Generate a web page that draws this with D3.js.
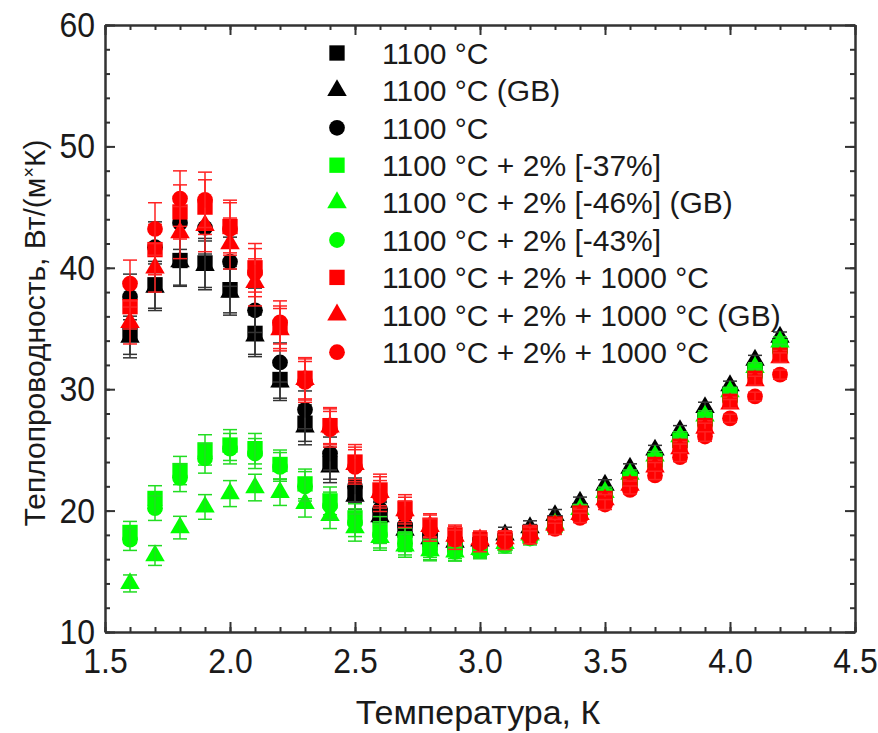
<script src="https://d3js.org/d3.v7.min.js"></script>

<style>
body{
  margin:0;
  background:#ffffff;
}
svg text{
  font-family:"Liberation Sans", Arial, sans-serif;
  fill:#1a1a1a;
}
.axis path, .axis line{
  stroke:#333333;
  stroke-width:2;
}
</style>

<div id="chart"></div>

<script>
// temperatures, K
const temps = [1.6,1.7,1.8,1.9,2.0,2.1,2.2,2.3,2.4,2.5,2.6,2.7,2.8,2.9,3.0,3.1,3.2,3.3,3.4,3.5,3.6,3.7,3.8,3.9,4.0,4.1,4.2];

// relative size of the error bars at each temperature
const errFrac = [0.05,0.05,0.05,0.05,0.05,0.05,0.05,0.055,0.055,0.06,0.06,0.055,0.05,0.045,0.04,0.035,0.03,0.025,0.02,0.02,0.015,0.015,0.015,0.015,0.012,0.012,0.012];

// thermal conductivity, W/(m*K)
const blackSquare = [34.6,38.6,40.6,40.4,38.2,34.6,30.8,27.2,23.9,21.4,19.6,18.4,17.6,17.2,17.2,17.5,18.2,19.0,20.0,21.3,22.7,24.2,25.8,27.6,29.6,31.6,33.6];
const blackTriangle = [34.3,38.4,40.5,40.2,38.0,34.4,30.6,26.9,23.6,21.2,19.5,18.4,17.7,17.4,17.5,18.0,18.6,19.6,20.7,22.1,23.5,25.0,26.6,28.5,30.3,32.4,34.3];
const blackCircle = [37.6,41.7,43.7,43.3,40.5,36.5,32.2,28.3,24.7,22.0,20.1,18.8,18.0,17.6,17.5,17.7,18.3,19.1,20.1,21.4,22.8,24.3,25.9,27.7,29.7,31.7,33.7];
const greenSquare = [18.2,21.0,23.3,25.0,25.4,25.1,23.8,22.2,20.8,19.4,18.4,17.6,17.0,16.8,16.9,17.3,17.9,18.8,19.9,21.2,22.6,24.1,25.8,27.5,29.5,31.5,33.5];
const greenTriangle = [14.0,16.3,18.6,20.3,21.4,21.9,21.5,20.6,19.6,18.6,17.8,17.1,16.7,16.6,16.8,17.3,18.0,18.9,20.1,21.5,23.0,24.5,26.1,27.8,29.8,31.8,33.9];
const greenCircle = [17.6,20.2,22.7,24.3,25.1,24.7,23.6,22.0,20.4,19.0,18.0,17.3,16.8,16.6,16.7,17.1,17.7,18.6,19.7,21.0,22.4,23.9,25.6,27.3,29.3,31.3,33.3];
const redSquare = [36.8,41.5,44.6,45.0,43.4,40.0,35.1,30.9,27.0,24.0,21.7,20.2,18.8,18.0,17.6,17.7,18.2,18.9,19.8,21.0,22.2,23.8,25.3,27.0,29.0,30.9,32.8];
const redTriangle = [35.5,40.0,42.9,43.5,42.0,38.8,34.9,30.8,26.9,23.8,21.5,20.0,18.7,17.9,17.6,17.7,18.1,18.8,19.7,20.9,22.1,23.6,25.1,26.8,28.8,30.7,32.6];
const redCircle = [38.7,43.2,45.7,45.6,43.2,39.6,35.5,30.6,26.7,23.6,21.2,19.7,18.4,17.6,17.3,17.4,17.8,18.5,19.4,20.5,21.7,22.9,24.4,26.1,27.6,29.4,31.2];

const seriesNames = [
  "1100 °C",
  "1100 °C (GB)",
  "1100 °C",
  "1100 °C + 2% [-37%]",
  "1100 °C + 2% [-46%] (GB)",
  "1100 °C + 2% [-43%]",
  "1100 °C + 2% + 1000 °C",
  "1100 °C + 2% + 1000 °C (GB)",
  "1100 °C + 2% + 1000 °C"
];
const seriesValues = [blackSquare, blackTriangle, blackCircle, greenSquare, greenTriangle, greenCircle, redSquare, redTriangle, redCircle];

const xTicks = [1.5,2.0,2.5,3.0,3.5,4.0,4.5];
const yTicks = [10,20,30,40,50,60];

const colors = ["#000000","#000000","#000000","#00ff00","#00ff00","#00ff00","#ff0000","#ff0000","#ff0000"];
const barColors = ["#333333","#333333","#333333","#22dd22","#22dd22","#22dd22","#ff2222","#ff2222","#ff2222"];
const shapes = [d3.symbolSquare, d3.symbolTriangle, d3.symbolCircle];
const shapeSizes = [235, 165, 195];

let width = 878,
    height = 733;
let margin = {top: 25, right: 23, bottom: 101, left: 105};

let svg = d3.select("#chart")
  .append("svg")
    .attr("width", width)
    .attr("height", height);

let x = d3.scaleLinear()
  .domain([1.5, 4.5])
  .range([margin.left, width - margin.right]);

let y = d3.scaleLinear()
  .domain([10, 60])
  .range([height - margin.bottom, margin.top]);

// minor ticks first, then major ticks with labels
let xMinor = d3.range(15, 46).map(d => d / 10);
let yMinor = d3.range(10, 61, 2);

svg.append("g")
  .attr("class", "axis")
  .attr("transform", "translate(0," + y(10) + ")")
  .call(d3.axisBottom(x).tickValues(xMinor).tickSizeInner(-5).tickSizeOuter(0).tickFormat(""));
svg.append("g")
  .attr("class", "axis")
  .attr("transform", "translate(0," + y(60) + ")")
  .call(d3.axisTop(x).tickValues(xMinor).tickSizeInner(-5).tickSizeOuter(0).tickFormat(""));
svg.append("g")
  .attr("class", "axis")
  .attr("transform", "translate(" + x(1.5) + ",0)")
  .call(d3.axisLeft(y).tickValues(yMinor).tickSizeInner(-5).tickSizeOuter(0).tickFormat(""));
svg.append("g")
  .attr("class", "axis")
  .attr("transform", "translate(" + x(4.5) + ",0)")
  .call(d3.axisRight(y).tickValues(yMinor).tickSizeInner(-5).tickSizeOuter(0).tickFormat(""));

let xAxis = svg.append("g")
  .attr("class", "axis")
  .attr("transform", "translate(0," + y(10) + ")")
  .call(d3.axisBottom(x).tickValues(xTicks).tickSizeInner(-10).tickSizeOuter(0).tickPadding(14).tickFormat(d3.format(".1f")));
svg.append("g")
  .attr("class", "axis")
  .attr("transform", "translate(0," + y(60) + ")")
  .call(d3.axisTop(x).tickValues(xTicks).tickSizeInner(-10).tickSizeOuter(0).tickFormat(""));
let yAxis = svg.append("g")
  .attr("class", "axis")
  .attr("transform", "translate(" + x(1.5) + ",0)")
  .call(d3.axisLeft(y).tickValues(yTicks).tickSizeInner(-10).tickSizeOuter(0).tickPadding(10));
svg.append("g")
  .attr("class", "axis")
  .attr("transform", "translate(" + x(4.5) + ",0)")
  .call(d3.axisRight(y).tickValues(yTicks).tickSizeInner(-10).tickSizeOuter(0).tickFormat(""));

// tick labels in the reference are a little taller than wide
svg.selectAll(".axis text")
  .attr("font-size", "32px")
  .attr("fill", "#1a1a1a")
  .attr("transform", "scale(1,1.12)");

// axis titles
svg.append("text")
  .attr("x", 478)
  .attr("y", 724)
  .attr("text-anchor", "middle")
  .attr("font-size", "34px")
  .text("Температура, К");

let yTitle = svg.append("text")
  .attr("transform", "translate(45," + 333 + ") rotate(-90)")
  .attr("text-anchor", "middle")
  .attr("font-size", "30px");
yTitle.append("tspan").text("Теплопроводность, Вт/(м");
yTitle.append("tspan").attr("font-size", "18px").attr("dy", "-10").text("×");
yTitle.append("tspan").attr("dy", "10").text("К)");

// data points with error bars
let plot = svg.append("g");
seriesValues.forEach(function(vals, s){
  let pts = temps.map((t, i) => ({t: t, v: vals[i], e: vals[i] * errFrac[i]}));
  let g = plot.append("g");

  g.selectAll("path.mark")
    .data(pts)
    .enter().append("path")
      .attr("class", "mark")
      .attr("transform", d => "translate(" + x(d.t) + "," + y(d.v) + ")")
      .attr("d", d3.symbol().type(shapes[s % 3]).size(shapeSizes[s % 3]))
      .attr("fill", colors[s]);

  let bars = g.selectAll("g.err")
    .data(pts)
    .enter().append("g")
      .attr("class", "err")
      .attr("stroke", barColors[s])
      .attr("stroke-width", 1.5);
  bars.append("line")
    .attr("x1", d => x(d.t)).attr("x2", d => x(d.t))
    .attr("y1", d => y(d.v - d.e)).attr("y2", d => y(d.v + d.e));
  bars.append("line")
    .attr("x1", d => x(d.t) - 7).attr("x2", d => x(d.t) + 7)
    .attr("y1", d => y(d.v + d.e)).attr("y2", d => y(d.v + d.e));
  bars.append("line")
    .attr("x1", d => x(d.t) - 7).attr("x2", d => x(d.t) + 7)
    .attr("y1", d => y(d.v - d.e)).attr("y2", d => y(d.v - d.e));
});

// legend
let legend = svg.append("g")
  .attr("transform", "translate(337,53)");
seriesNames.forEach(function(name, s){
  let row = legend.append("g")
    .attr("transform", "translate(0," + (s * 37.4) + ")");
  row.append("path")
    .attr("d", d3.symbol().type(shapes[s % 3]).size(shapeSizes[s % 3]))
    .attr("fill", colors[s]);
  row.append("text")
    .attr("x", 45)
    .attr("y", 0)
    .attr("dy", "0.36em")
    .attr("font-size", "30px")
    .text(name);
});
</script>
